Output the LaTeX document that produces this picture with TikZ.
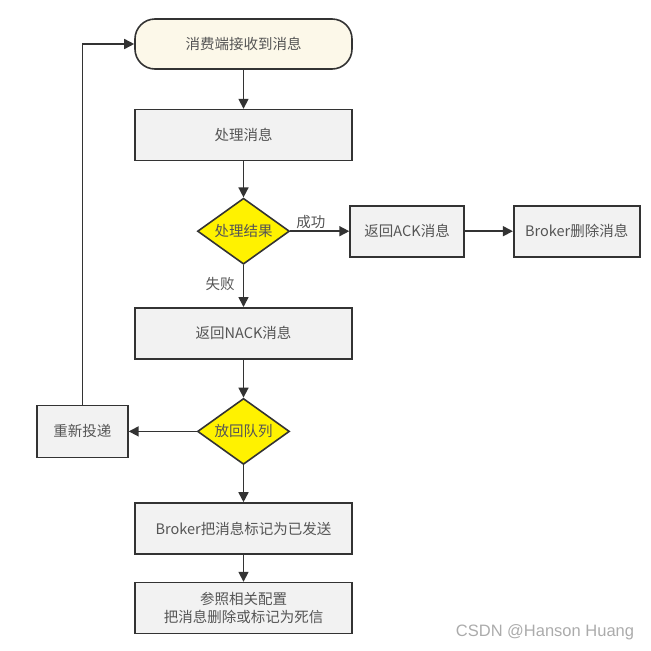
\documentclass[tikz,border=0pt]{standalone}
\usepackage{fontspec}
\setmainfont{Noto Sans CJK SC}
\newfontfamily\markfont{Liberation Sans}
\usetikzlibrary{shapes.geometric,positioning,arrows.meta}
\definecolor{linegray}{HTML}{333333}
\definecolor{textgray}{HTML}{555555}
\definecolor{boxgray}{HTML}{F2F2F2}
\definecolor{startcream}{HTML}{FCF8E9}
\begin{document}
\begin{tikzpicture}[x=1pt, y=-1pt, line width=1.6pt,
        font=\fontsize{14.5}{18}\selectfont,
        start/.style = {draw=linegray, fill=startcream, rounded corners=20pt, minimum width=217pt, minimum height=50pt, text=textgray},
        proc/.style = {draw=linegray, fill=boxgray, minimum width=217pt, minimum height=51pt, text=textgray, align=center},
        small/.style = {proc, minimum width=114pt},
        decide/.style = {draw=linegray, fill=yellow, diamond, aspect=1.4, minimum width=92pt, minimum height=66pt, inner sep=0pt, text=textgray},
        arr/.style = {-{Triangle[length=10pt, width=10pt]}, draw=linegray},
        tag/.style = {text=textgray, inner sep=2pt}]
        \useasboundingbox (0,0) rectangle (651,651);
        \node[start] (recv) at (243.5,44) {消费端接收到消息};
        \node[proc] (handle) [below=39pt of recv] {处理消息};
        \node[decide] (result) [below=36pt of handle] {处理结果};
        \node[proc] (nack) [below=42pt of result] {返回NACK消息};
        \node[decide] (requeue) [below=38pt of nack] {放回队列};
        \node[proc] (sent) [below=37pt of requeue] {Broker把消息标记为已发送};
        \node[proc] (dead) [below=27pt of sent] {参照相关配置\\把消息删除或标记为死信};
        \node[small] (ack) [right=59pt of result] {返回ACK消息};
        \node[small, minimum width=126pt] (remove) [right=48pt of ack] {Broker删除消息};
        \node[small, minimum width=91pt, minimum height=52pt] (retry) [left=68pt of requeue] {重新投递};
        \node[text=black!33, font=\markfont\fontsize{16.5}{18}\selectfont] (mark) at (545,632) {CSDN @Hanson Huang};
        \draw[arr] (recv) -- (handle);
        \draw[arr] (handle) -- (result);
        \draw[arr] (result) -- node[tag, above, pos=0.35] {成功} (ack);
        \draw[arr] (ack) -- (remove);
        \draw[arr] (result) -- node[tag, left=6pt, pos=0.45] {失败} (nack);
        \draw[arr] (nack) -- (requeue);
        \draw[arr] (requeue) -- (retry);
        \draw[arr] (requeue) -- (sent);
        \draw[arr] (sent) -- (dead);
        \draw[arr] (retry.north) |- (recv.west);
\end{tikzpicture}
\end{document}
